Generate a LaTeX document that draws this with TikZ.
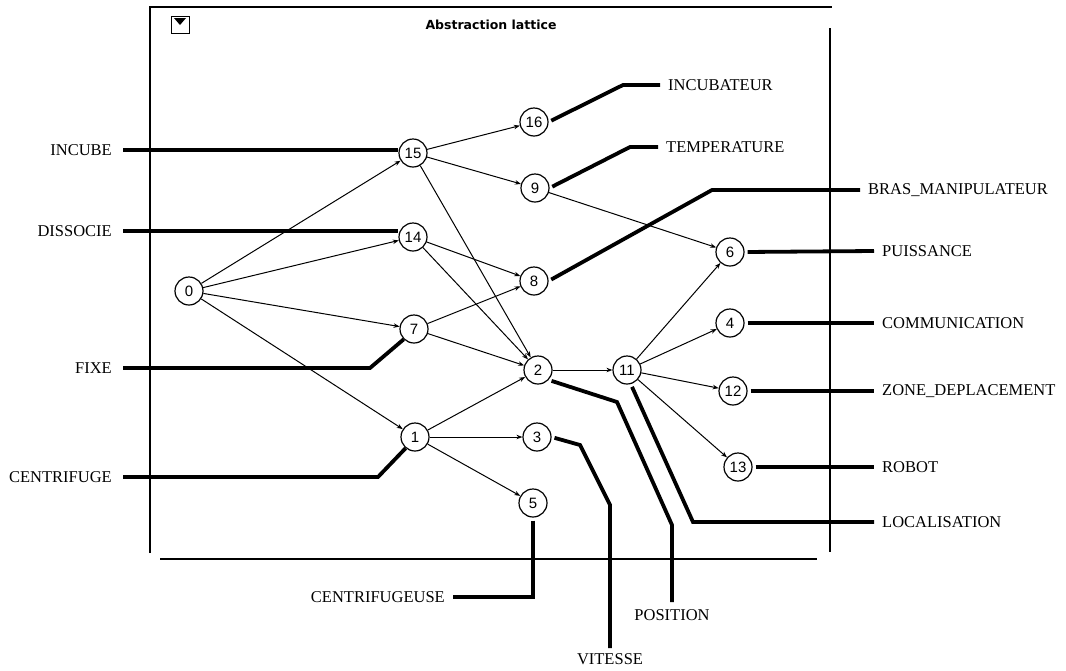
\documentclass[tikz,border=0pt]{standalone}
\usepackage{fontspec}
\setmainfont{Liberation Serif}
\newfontfamily\numfont{Liberation Sans}
\newfontfamily\titlefont{DejaVu Sans}
\usetikzlibrary{arrows.meta}
\begin{document}
\begin{tikzpicture}[x=1pt,y=-1pt,
  vtx/.style={circle,draw,line width=1.2pt,minimum size=28pt,inner sep=0pt,font=\numfont\fontsize{15}{15}\selectfont},
  edge/.style={line width=1pt,-{Stealth[length=6pt,width=4.5pt]}},
  lab/.style={font=\fontsize{16.5}{16.5}\selectfont,inner xsep=8pt,inner ysep=0pt},
  link/.style={line width=3.8pt,shorten <=3pt},
  frame/.style={line width=2.6pt}]
\useasboundingbox (0,0) rectangle (1066,670);
% window frame
\draw[frame] (150,553) -- (150,7) -- (832,7);
\draw[frame] (830,28) -- (830,552);
\draw[frame] (160,559) -- (817,559);
\draw[line width=1pt] (171,16) rectangle (189,33);
\fill (174,18) -- (186,18) -- (180,25) -- cycle;
\node[font=\titlefont\bfseries\fontsize{12.5}{12.5}\selectfont,inner sep=0pt] (title) at (491,25) {Abstraction lattice};
% vertices
\node[vtx] (n0) at (189,291) {0};
\node[vtx] (n15) at (413,153) {15};
\node[vtx] (n14) at (413,237) {14};
\node[vtx] (n7) at (414,329) {7};
\node[vtx] (n1) at (415,437) {1};
\node[vtx] (n16) at (534,122) {16};
\node[vtx] (n9) at (535,188) {9};
\node[vtx] (n8) at (534,281) {8};
\node[vtx] (n2) at (538,370) {2};
\node[vtx] (n3) at (537,437) {3};
\node[vtx] (n5) at (533,503) {5};
\node[vtx] (n11) at (627,370) {11};
\node[vtx] (n6) at (730,252) {6};
\node[vtx] (n4) at (730,323) {4};
\node[vtx] (n12) at (733,391) {12};
\node[vtx] (n13) at (738,467) {13};
% edges
\foreach \a/\b in {0/15,0/14,0/7,0/1,15/16,15/9,15/2,14/8,14/2,7/8,7/2,1/2,1/3,1/5,9/6,2/11,11/6,11/4,11/12,11/13}
  \draw[edge] (n\a) -- (n\b);
% labels
\node[lab,anchor=east] (lINCUBE) at (120,150) {INCUBE};
\node[lab,anchor=east] (lDISSOCIE) at (120,231) {DISSOCIE};
\node[lab,anchor=east] (lFIXE) at (120,368) {FIXE};
\node[lab,anchor=east] (lCENTRIFUGE) at (120,477) {CENTRIFUGE};
\node[lab,anchor=west] (lINCUBATEUR) at (660,85) {INCUBATEUR};
\node[lab,anchor=west] (lTEMPERATURE) at (658,147) {TEMPERATURE};
\node[lab,anchor=west] (lBRAS) at (860,190) {BRAS\_MANIPULATEUR};
\node[lab,anchor=west] (lPUISSANCE) at (874,251) {PUISSANCE};
\node[lab,anchor=west] (lCOMM) at (874,323) {COMMUNICATION};
\node[lab,anchor=west] (lZONE) at (874,391) {ZONE\_DEPLACEMENT};
\node[lab,anchor=west] (lROBOT) at (874,467) {ROBOT};
\node[lab,anchor=west] (lLOCAL) at (874,522) {LOCALISATION};
\node[lab,anchor=east] (lCENTRIFUGEUSE) at (453,597) {CENTRIFUGEUSE};
\node[lab,anchor=north,inner ysep=7pt] (lPOSITION) at (672,602) {POSITION};
\node[lab,anchor=north,inner ysep=5pt] (lVITESSE) at (610,648) {VITESSE};
% label links
\draw[link] (lINCUBE.east) -- (lINCUBE.east -| n15.west);
\draw[link] (lDISSOCIE.east) -- (lDISSOCIE.east -| n14.west);
\draw[link] (lFIXE.east) -- (370,368) -- (n7.225);
\draw[link] (lCENTRIFUGE.east) -- (378,477) -- (n1.230);
\draw[link] (n16.east) -- (623,85) -- (lINCUBATEUR.west);
\draw[link] (n9.east) -- (630,147) -- (lTEMPERATURE.west);
\draw[link] (n8.east) -- (712,190) -- (lBRAS.west);
\draw[link] (n6.east) -- (lPUISSANCE.west);
\draw[link] (n4.east) -- (lCOMM.west);
\draw[link] (n12.east) -- (lZONE.west);
\draw[link] (n13.east) -- (lROBOT.west);
\draw[link] (n11.285) -- (693,522) -- (lLOCAL.west);
\draw[link] (n2.-43) -- (617,402) -- (672,525) -- (lPOSITION.north);
\draw[link] (n3.east) -- (580,445) -- (610,505) -- (lVITESSE.north);
\draw[link] (n5.south) -- (533,597) -- (lCENTRIFUGEUSE.east);
\end{tikzpicture}
\end{document}
